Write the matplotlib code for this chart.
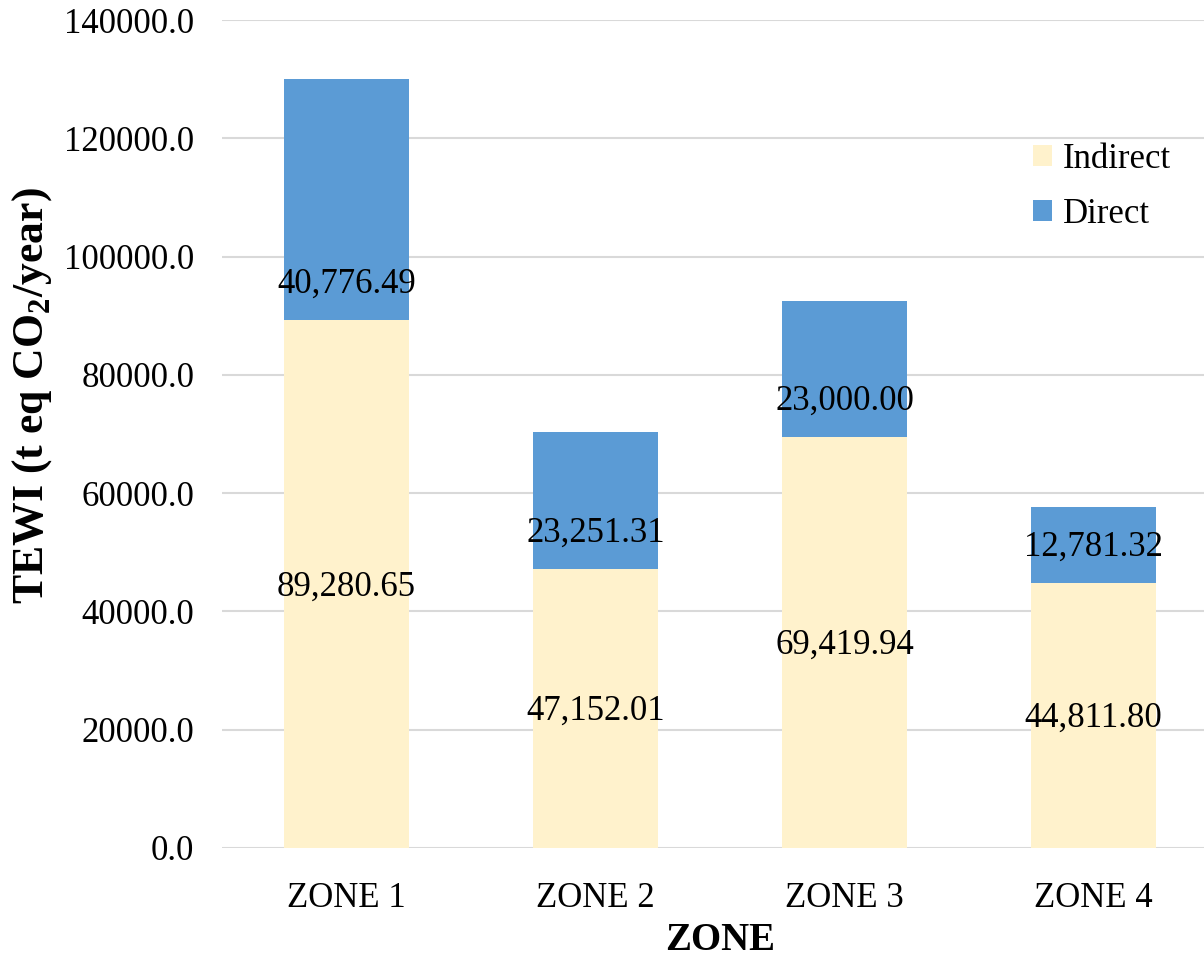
import numpy as np
import matplotlib
matplotlib.use('Agg')
import matplotlib.pyplot as plt
from matplotlib.ticker import FuncFormatter

plt.rcParams['font.family'] = ['Liberation Serif', 'DejaVu Serif']
plt.rcParams['mathtext.fontset'] = 'custom'
plt.rcParams['mathtext.rm'] = 'Liberation Serif'
plt.rcParams['mathtext.bf'] = 'Liberation Serif:bold'

# data
zones = ['ZONE 1', 'ZONE 2', 'ZONE 3', 'ZONE 4']
indirect = [89280.65, 47152.01, 69419.94, 44811.80]
direct = [40776.49, 23251.31, 23000.00, 12781.32]

c_ind = '#FFF2CC'
c_dir = '#5B9BD5'

fig = plt.figure(figsize=(12.04, 9.57), dpi=100)
# plot area runs past the right edge (reference is cropped)
ax = fig.add_axes([0.1844, 0.1139, 0.8272, 0.8652])

x = np.arange(len(zones))
ax.bar(x, indirect, width=0.5, color=c_ind, label='Indirect', zorder=2)
ax.bar(x, direct, width=0.5, bottom=indirect, color=c_dir, label='Direct', zorder=2)

# labels: indirect centred, direct just above the base of its segment
for i in range(len(zones)):
    ax.annotate(f'{indirect[i]:,.2f}', (x[i], indirect[i] / 2), xytext=(0, -2),
                textcoords='offset points', ha='center', va='center', fontsize=25, zorder=3)
    ax.annotate(f'{direct[i]:,.2f}', (x[i], indirect[i]), xytext=(0, 26),
                textcoords='offset points', ha='center', va='center', fontsize=25, zorder=3)

ax.set_xlim(-0.5, 3.5)
ax.set_ylim(0, 140000)
ax.set_yticks(np.arange(0, 140001, 20000))
ax.yaxis.set_major_formatter(FuncFormatter(lambda v, p: f'{v:.1f}'))
ax.set_xticks(x)
ax.set_xticklabels(zones)
ax.tick_params(axis='both', length=0, labelsize=25)
ax.tick_params(axis='x', pad=24.5)
ax.tick_params(axis='y', pad=20)

ax.grid(axis='y', color='#D9D9D9', linewidth=1.5, zorder=0)
for s in ax.spines.values():
    s.set_visible(False)

ax.set_xlabel('ZONE', fontsize=28, fontweight='bold', labelpad=5)
ax.set_ylabel(r'TEWI (t eq CO$_\mathbf{2}$/year)', fontsize=31.5, fontweight='bold', labelpad=7)
ax.yaxis.label.set_y(0.546)

ax.legend(loc='upper left', bbox_to_anchor=(1033 / 1204, 1 - 143 / 957),
          bbox_transform=fig.transFigure, frameon=False, fontsize=25,
          handlelength=0.55, handleheight=0.55, handletextpad=0.3,
          labelspacing=0.62, borderpad=0, borderaxespad=0)

plt.savefig('out.png', dpi=100)
